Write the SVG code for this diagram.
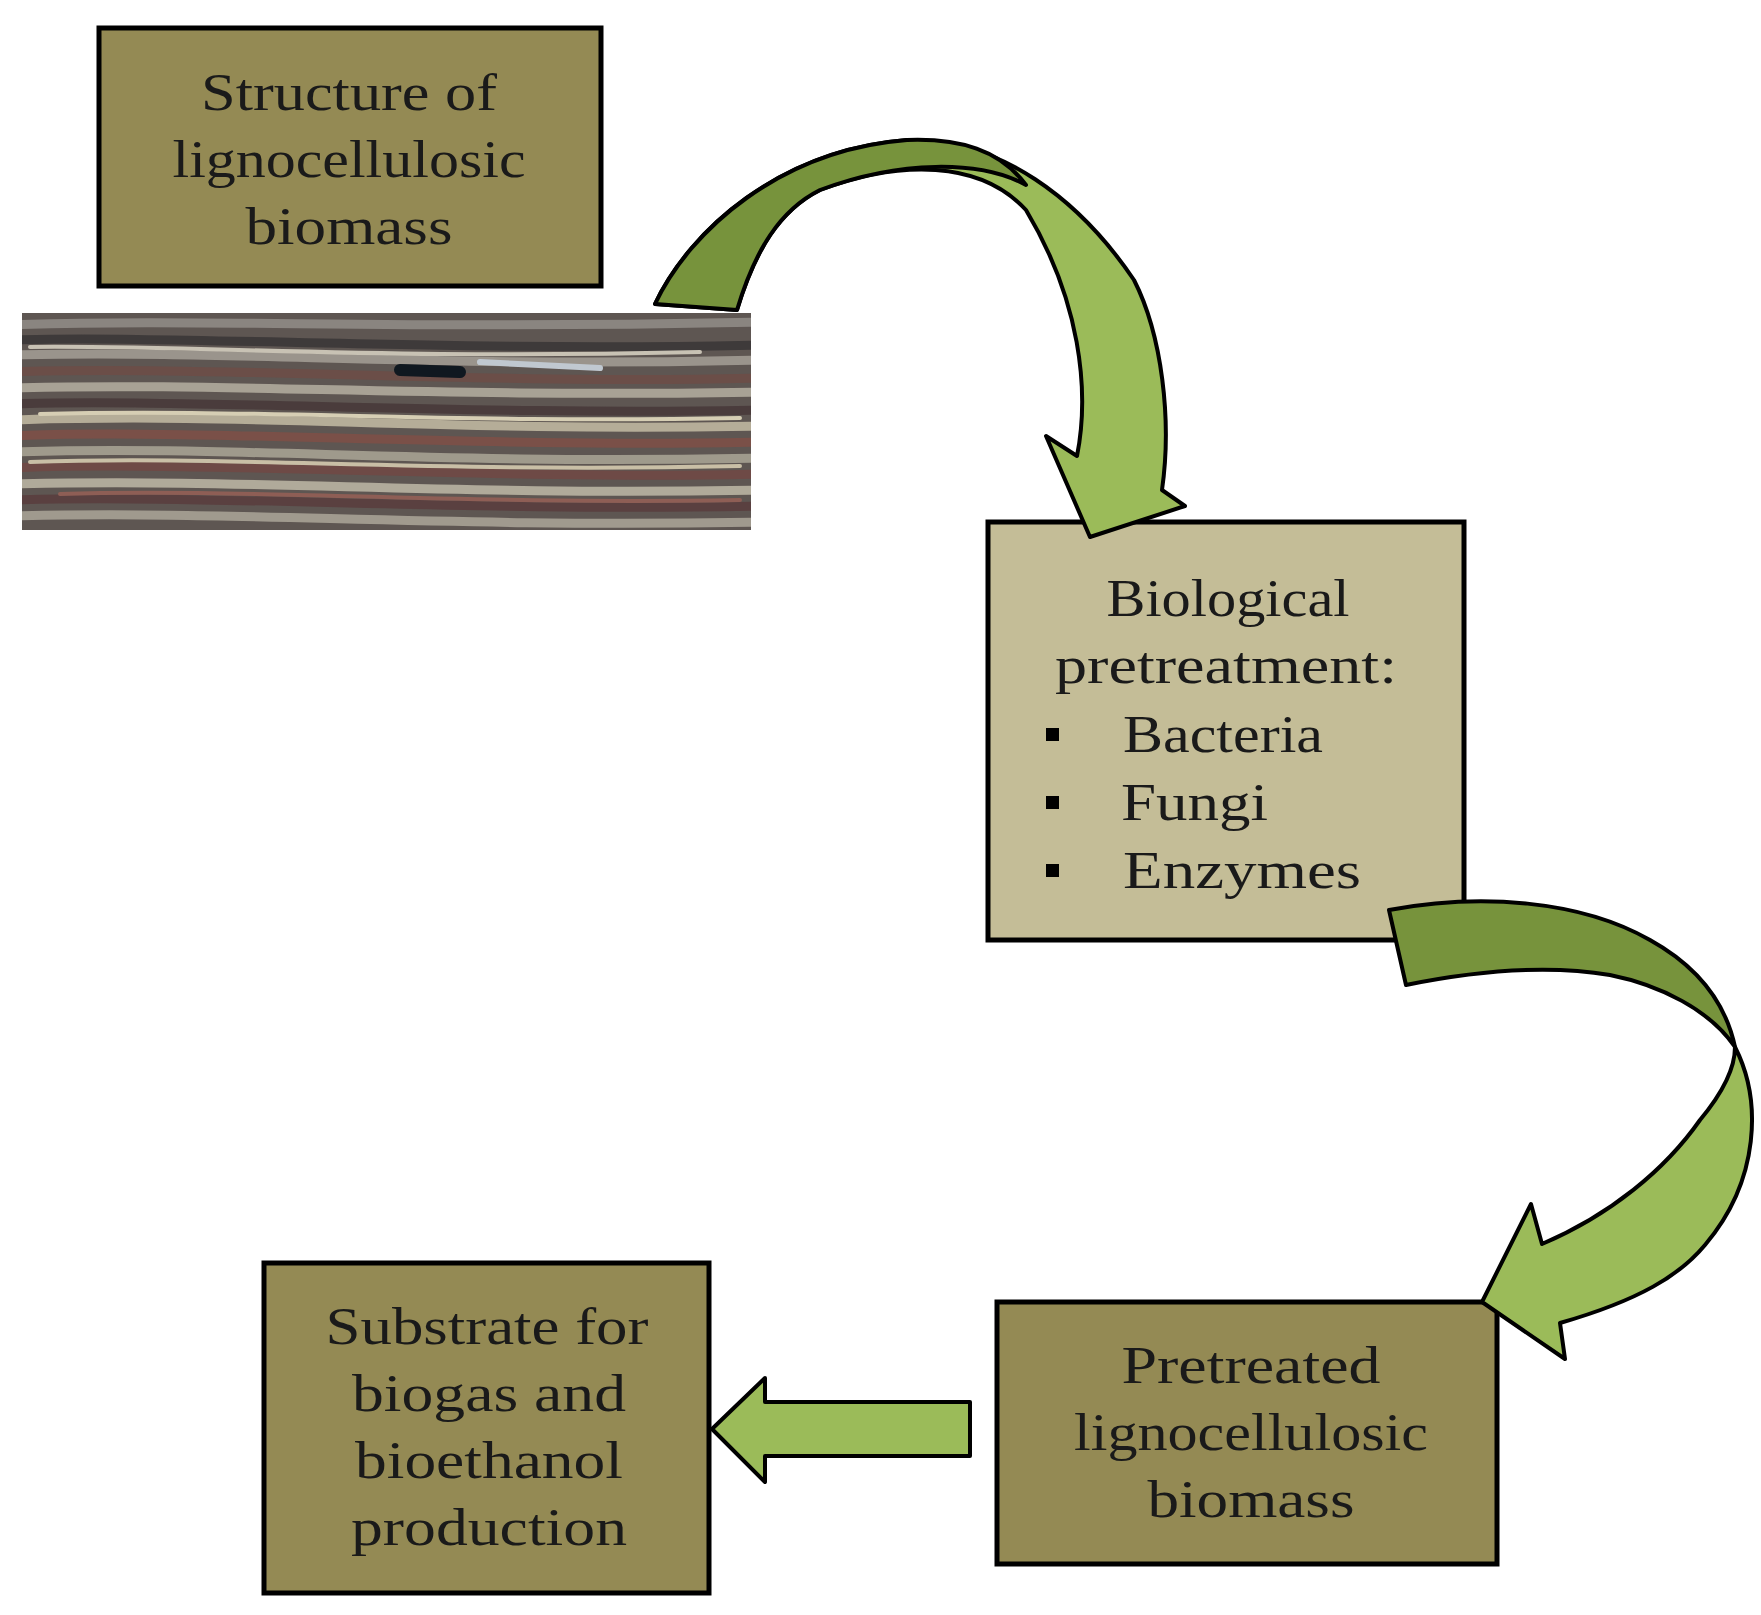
<svg xmlns="http://www.w3.org/2000/svg" width="1761" height="1615" viewBox="0 0 1761 1615">
<style>
.box{stroke:#000;stroke-width:5}
.olive{fill:#948a54}
.tan{fill:#c4bd97}
.t{font-family:"Liberation Serif",serif;font-size:52px;fill:#1a1a1a;text-anchor:middle}
.l{text-anchor:start}
.ar{stroke:#000;stroke-width:4;stroke-linejoin:round}
.dk{fill:#77933c}
.lt{fill:#9bbb59}
.tw{fill:none;stroke-linecap:round}
</style>
<rect width="1761" height="1615" fill="#fff"/>
<g id="photo">
<clipPath id="pc"><rect x="22" y="313" width="729" height="217"/></clipPath>
<g clip-path="url(#pc)">
<rect x="22" y="313" width="729" height="217" fill="#5e5652"/>
<g class="tw" stroke-width="9">
<path d="M10 325 C200 318 400 330 760 322" stroke="#8a8580"/>
<path d="M10 340 C180 335 450 352 760 345" stroke="#3e3a3a"/>
<path d="M10 355 C250 350 420 368 760 360" stroke="#9a948c"/>
<path d="M10 372 C200 365 500 385 760 378" stroke="#6b4e48"/>
<path d="M10 388 C230 382 420 398 760 392" stroke="#a8a295"/>
<path d="M10 404 C180 398 480 416 760 410" stroke="#4a3c3c"/>
<path d="M10 420 C260 412 430 432 760 426" stroke="#b5ad98"/>
<path d="M10 436 C200 428 460 448 760 442" stroke="#7a5048"/>
<path d="M10 452 C240 445 420 465 760 458" stroke="#9f9a8c"/>
<path d="M10 468 C180 460 500 480 760 474" stroke="#6e4a46"/>
<path d="M10 484 C260 478 440 496 760 490" stroke="#b0aa9a"/>
<path d="M10 500 C200 494 470 512 760 506" stroke="#5a4040"/>
<path d="M10 516 C240 510 430 528 760 522" stroke="#a09a8e"/>
</g>
<g class="tw" stroke-width="4">
<path d="M30 347 C200 345 380 360 700 352" stroke="#c8c2b4"/>
<path d="M40 414 C250 408 450 424 740 418" stroke="#d6ceb4"/>
<path d="M30 462 C230 455 420 473 740 466" stroke="#c9bfa6"/>
<path d="M60 494 C240 488 460 505 740 500" stroke="#8e5e55"/>
<path d="M400 370 L460 372" stroke="#101820" stroke-width="12"/>
<path d="M480 362 L600 368" stroke="#c0c8d0" stroke-width="6"/>
</g>
</g>
</g>
<g id="n1">
<rect class="box olive" x="99" y="28" width="502" height="258"/>
<text class="t" x="349" y="110" textLength="296" lengthAdjust="spacingAndGlyphs">Structure of</text>
<text class="t" x="349" y="177" textLength="353" lengthAdjust="spacingAndGlyphs">lignocellulosic</text>
<text class="t" x="349" y="244" textLength="207" lengthAdjust="spacingAndGlyphs">biomass</text>
</g>
<g id="n2">
<rect class="box tan" x="988" y="522" width="476" height="418"/>
<text class="t" x="1228" y="616" textLength="243" lengthAdjust="spacingAndGlyphs">Biological</text>
<text class="t" x="1226" y="683" textLength="342" lengthAdjust="spacingAndGlyphs">pretreatment:</text>
<rect x="1046" y="728" width="13" height="13" fill="#000"/>
<rect x="1046" y="796" width="13" height="13" fill="#000"/>
<rect x="1046" y="864" width="13" height="13" fill="#000"/>
<text class="t l" x="1123" y="752" textLength="200" lengthAdjust="spacingAndGlyphs">Bacteria</text>
<text class="t l" x="1121" y="820" textLength="147" lengthAdjust="spacingAndGlyphs">Fungi</text>
<text class="t l" x="1123" y="888" textLength="238" lengthAdjust="spacingAndGlyphs">Enzymes</text>
</g>
<g id="n3">
<rect class="box olive" x="997" y="1302" width="500" height="262"/>
<text class="t" x="1251" y="1383" textLength="259" lengthAdjust="spacingAndGlyphs">Pretreated</text>
<text class="t" x="1251" y="1450" textLength="354" lengthAdjust="spacingAndGlyphs">lignocellulosic</text>
<text class="t" x="1251" y="1517" textLength="207" lengthAdjust="spacingAndGlyphs">biomass</text>
</g>
<g id="n4">
<rect class="box olive" x="264" y="1263" width="445" height="330"/>
<text class="t" x="487" y="1344" textLength="323" lengthAdjust="spacingAndGlyphs">Substrate for</text>
<text class="t" x="489" y="1411" textLength="274" lengthAdjust="spacingAndGlyphs">biogas and</text>
<text class="t" x="489" y="1478" textLength="268" lengthAdjust="spacingAndGlyphs">bioethanol</text>
<text class="t" x="489" y="1545" textLength="276" lengthAdjust="spacingAndGlyphs">production</text>
</g>
<g id="connectors">
<path class="ar lt" d="M655 304 C690 230 780 150 907 140 C1000 138 1080 200 1134 280 C1162 335 1172 420 1162 490 L1185 506 L1090 537 L1046 436 L1077 456 C1090 390 1080 300 1026 210 C980 160 900 160 820 190 C780 210 755 250 737 310 Z"/>
<path class="ar dk" d="M655 304 C690 230 780 150 907 140 C960 138 1000 150 1026 185 C980 160 900 160 820 190 C780 210 755 250 737 310 Z"/>
<path class="ar lt" d="M1735 1047 C1762 1100 1760 1180 1705 1245 C1680 1275 1640 1300 1560 1323 L1565 1359 L1482 1302 L1531 1204 L1542 1244 C1610 1215 1665 1170 1700 1120 C1725 1090 1735 1065 1735 1047 Z"/>
<path class="ar dk" d="M1389 910 C1480 893 1580 900 1650 940 C1695 965 1725 1000 1735 1047 C1710 1010 1660 985 1610 975 C1550 965 1480 970 1406 985 Z"/>
<path class="ar lt" d="M970 1402 L765 1402 L765 1378 L712 1429 L765 1482 L765 1456 L970 1456 Z"/>
</g>
</svg>
